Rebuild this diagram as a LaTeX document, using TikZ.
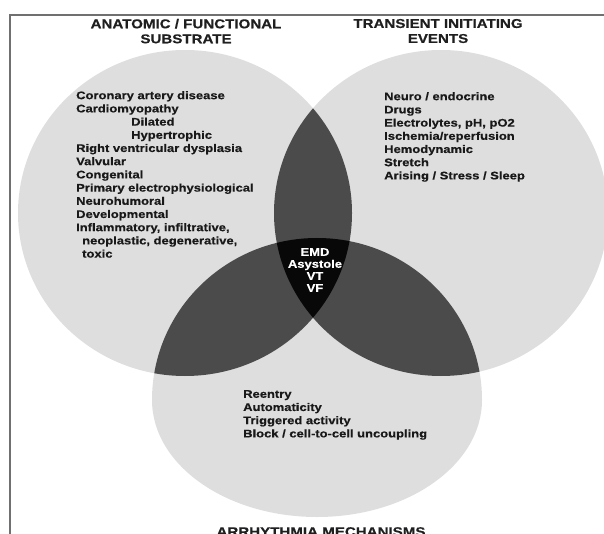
\documentclass[tikz,border=0pt]{standalone}
\usepackage{fontspec}
\newfontfamily\labfont{Liberation Sans}[FakeStretch=1.18,FakeBold=0.5]
\definecolor{lightfill}{HTML}{DEDEDE}
\definecolor{darkfill}{HTML}{4B4B4B}
\definecolor{corefill}{HTML}{080808}
\definecolor{framegray}{HTML}{707070}
\begin{document}
\begin{tikzpicture}[x=1pt,y=-1pt,
  listtext/.style={font=\labfont\bfseries\fontsize{11}{13.2}\selectfont, align=left, anchor=north west, inner sep=0pt, text=black!90},
  titletext/.style={font=\labfont\bfseries\fontsize{12.8}{15}\selectfont, align=center, inner sep=0pt, anchor=north, text=black!88},
  coretext/.style={font=\labfont\bfseries\fontsize{11}{12}\selectfont, align=center, inner sep=0pt, anchor=north, text=white}]
\useasboundingbox (0,0) rectangle (604,534);
\clip (0,0) rectangle (604,534);
\def\leftset{(185,213) ellipse [x radius=167, y radius=163]}
\def\rightset{(441,213) ellipse [x radius=167, y radius=163]}
\def\bottomset{(152,400) arc[start angle=180,end angle=360,x radius=165,y radius=162] arc[start angle=0,end angle=180,x radius=165,y radius=117] -- cycle}
% single sets
\fill[lightfill] \leftset;
\fill[lightfill] \rightset;
\fill[lightfill] \bottomset;
% pairwise overlaps
\begin{scope}
  \clip \leftset;
  \fill[darkfill] \rightset;
  \fill[darkfill] \bottomset;
\end{scope}
\begin{scope}
  \clip \rightset;
  \fill[darkfill] \bottomset;
\end{scope}
% triple overlap
\begin{scope}
  \clip \leftset;
  \clip \rightset;
  \fill[corefill] \bottomset;
\end{scope}
% frame
\draw[framegray, line width=2pt] (10,534) -- (10,15) -- (604,15);
% titles
\node[titletext] (anat) at (186,18.8) {ANATOMIC / FUNCTIONAL\\SUBSTRATE};
\node[titletext] (trans) at (438,18.8) {TRANSIENT INITIATING\\EVENTS};
\node[titletext] (mech) at (321,527) {ARRHYTHMIA MECHANISMS};
% lists
\node[listtext] (anatlist) at (76,91) {Coronary artery disease\\
Cardiomyopathy\\
\hspace*{55pt}Dilated\\
\hspace*{55pt}Hypertrophic\\
Right ventricular dysplasia\\
Valvular\\
Congenital\\
Primary electrophysiological\\
Neurohumoral\\
Developmental\\
Inflammatory, infiltrative,\\
\hspace*{6pt}neoplastic, degenerative,\\
\hspace*{6pt}toxic};
\node[listtext] (translist) at (384,92) {Neuro / endocrine\\
Drugs\\
Electrolytes, pH, pO2\\
Ischemia/reperfusion\\
Hemodynamic\\
Stretch\\
Arising / Stress / Sleep};
\node[listtext] (mechlist) at (243,390) {Reentry\\
Automaticity\\
Triggered activity\\
Block / cell-to-cell uncoupling};
\node[coretext] (core) at (315,248) {EMD\\Asystole\\VT\\VF};
\end{tikzpicture}
\end{document}
